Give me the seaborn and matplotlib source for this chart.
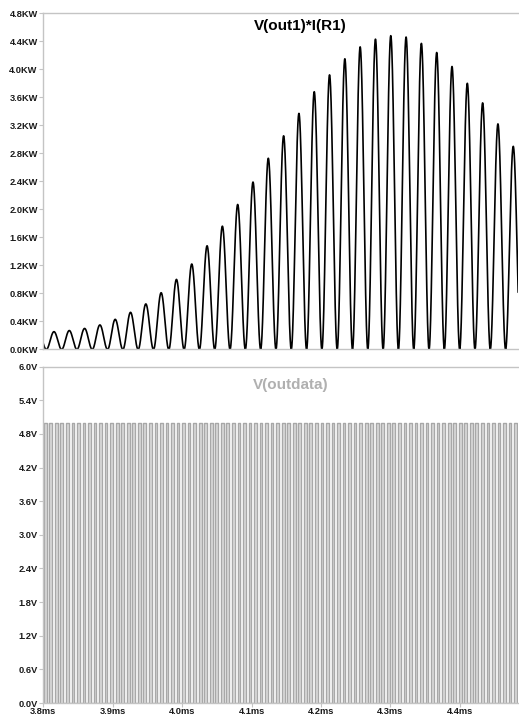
import numpy as np
import pandas as pd
import seaborn as sns
import matplotlib.pyplot as plt

# peak power of each lobe (KW), first entry is the lobe cut by the left edge
peak_kw = [0.25, 0.254, 0.27, 0.30, 0.35, 0.43, 0.53, 0.65, 0.81, 1.00, 1.22,
           1.48, 1.76, 2.07, 2.39, 2.73, 3.05, 3.37, 3.68, 3.92, 4.15,
           4.32, 4.43, 4.48, 4.46, 4.37, 4.24, 4.04, 3.80, 3.52, 3.22, 2.90]
first_peak_ms = 3.8154 - 0.02205   # peak time of the first (clipped) lobe
lobe_period_ms = 0.02205

# V(outdata) clock
clock_start_ms = 3.8008
clock_period_ms = 0.00797
clock_high_v = 5.0

t_start, t_end = 3.8, 4.484

kw_ticks = [0.0, 0.4, 0.8, 1.2, 1.6, 2.0, 2.4, 2.8, 3.2, 3.6, 4.0, 4.4, 4.8]
kw_labels = ["0.0KW", "0.4KW", "0.8KW", "1.2KW", "1.6KW", "2.0KW", "2.4KW",
             "2.8KW", "3.2KW", "3.6KW", "4.0KW", "4.4KW", "4.8KW"]
v_ticks = [0.0, 0.6, 1.2, 1.8, 2.4, 3.0, 3.6, 4.2, 4.8, 5.4, 6.0]
v_labels = ["0.0V", "0.6V", "1.2V", "1.8V", "2.4V", "3.0V", "3.6V",
            "4.2V", "4.8V", "5.4V", "6.0V"]
ms_ticks = [3.8, 3.9, 4.0, 4.1, 4.2, 4.3, 4.4]
ms_labels = ["3.8ms", "3.9ms", "4.0ms", "4.1ms", "4.2ms", "4.3ms", "4.4ms"]

# top trace: each lobe is a sin^2 hump scaled to its peak
t = np.linspace(t_start, t_end, 8000)
k = np.clip(np.round((t - first_peak_ms) / lobe_period_ms).astype(int), 0, len(peak_kw) - 1)
amp = np.array(peak_kw)[k]
p = amp * np.cos(np.pi * (t - (first_peak_ms + k * lobe_period_ms)) / lobe_period_ms) ** 2
power = pd.DataFrame({"t": t, "p": p})

# bottom trace: square wave as explicit step points
rise = np.arange(clock_start_ms, t_end, clock_period_ms)
xs, ys = [t_start], [0.0]
for r in rise:
    f = r + clock_period_ms / 2
    xs += [r, r, min(f, t_end), min(f, t_end)]
    ys += [0.0, clock_high_v, clock_high_v, 0.0]
clock = pd.DataFrame({"t": xs, "v": ys})

sns.set_style("white")
plt.rcParams['font.family'] = ['Liberation Sans', 'DejaVu Sans']

fig = plt.figure(figsize=(5.19, 7.17), dpi=100)
ax1 = fig.add_axes([0.0834, 0.5126, 0.915, 0.4689])
ax2 = fig.add_axes([0.0834, 0.0195, 0.915, 0.4691])

sns.lineplot(data=power, x="t", y="p", ax=ax1, color="black", linewidth=1.2,
             estimator=None, sort=False)
ax2.fill_between(clock["t"], clock["v"], color="#dcdcdc", linewidth=0)
sns.lineplot(data=clock, x="t", y="v", ax=ax2, color="#a8a8a8", linewidth=1.0,
             estimator=None, sort=False)

grey = "#c4c4c4"
for ax in (ax1, ax2):
    ax.set_xlim(t_start, t_end)
    ax.set_xlabel("")
    ax.set_ylabel("")
    for s in ("top", "left", "bottom"):
        ax.spines[s].set_color(grey)
        ax.spines[s].set_linewidth(1.0)
    ax.spines["right"].set_visible(False)
    ax.tick_params(axis="y", left=True, length=3, width=0.8, color=grey, pad=1,
                   labelsize=6.7, labelcolor="#1a1a1a")

ax1.set_ylim(0, 4.8)
ax1.set_yticks(kw_ticks)
ax1.set_yticklabels(kw_labels, fontweight="bold")
ax1.set_xticks([])

ax2.set_ylim(0, 6.0)
ax2.set_yticks(v_ticks)
ax2.set_yticklabels(v_labels, fontweight="bold")
ax2.set_xticks(ms_ticks)
ax2.set_xticklabels(ms_labels, fontweight="bold")
ax2.tick_params(axis="x", bottom=True, length=3, width=0.8, color=grey, pad=0,
                labelsize=6.7, labelcolor="#1a1a1a")

ax1.text(0.541, 0.962, "V(out1)*I(R1)", transform=ax1.transAxes, ha="center",
         va="center", fontsize=11, fontweight="bold", color="black")
ax2.text(0.52, 0.946, "V(outdata)", transform=ax2.transAxes, ha="center",
         va="center", fontsize=11, fontweight="bold", color="#b0b0b0")

fig.savefig("out.png", dpi=100)
